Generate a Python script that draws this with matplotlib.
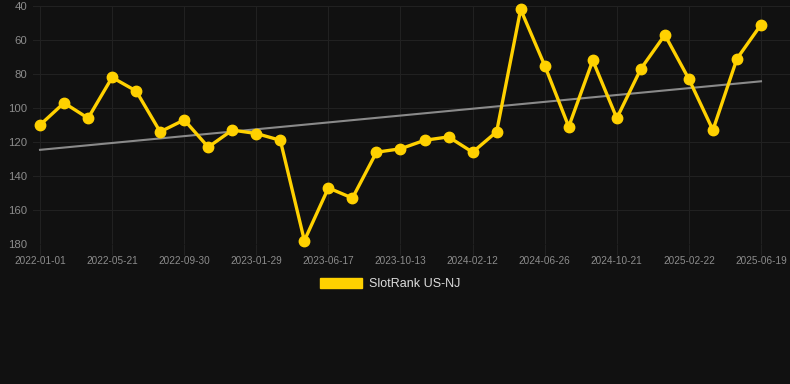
import numpy as np
import matplotlib
matplotlib.use("Agg")
import matplotlib.pyplot as plt
from matplotlib.patches import Patch

plt.rcParams["font.family"] = ["Liberation Sans", "DejaVu Sans"]

# rank values, one point per period (lower rank number = better, axis is inverted)
ranks = [110, 97, 106, 82, 90, 114, 107, 123, 113, 115, 119,
         178, 147, 153, 126, 124, 119, 117, 126, 114, 42,
         75, 111, 72, 106, 77, 57, 83, 113, 71, 51]
tick_labels = ["2022-01-01", "2022-05-21", "2022-09-30", "2023-01-29",
               "2023-06-17", "2023-10-13", "2024-02-12", "2024-06-26",
               "2024-10-21", "2025-02-22", "2025-06-19"]
y_ticks = [40, 60, 80, 100, 120, 140, 160, 180]
series_name = "SlotRank US-NJ"

bg = "#111111"
gold = "#FFD100"
grid_c = "#212121"

x = np.arange(len(ranks))
slope, icpt = np.polyfit(x, ranks, 1)
trend = slope * x + icpt

fig = plt.figure(figsize=(7.9, 3.84), dpi=100, facecolor=bg)
ax = fig.add_axes([33/790, 140/384, 757/790, 238/384], facecolor=bg)

ax.plot(x, trend, color="#8a8a8a", linewidth=1.5, zorder=2)
ax.plot(x, ranks, color=gold, linewidth=2.4, marker="o", markersize=7.5,
        markerfacecolor=gold, markeredgecolor=gold, zorder=3, clip_on=False)

ax.set_xlim(-7/24.03, 30 + 29/24.03)
ax.set_ylim(180, 40)
ax.set_yticks(y_ticks)
ax.set_xticks(x[::3])
ax.set_xticklabels(tick_labels)

ax.grid(True, color=grid_c, linewidth=0.8)
ax.set_axisbelow(True)
for s in ax.spines.values():
    s.set_visible(False)
ax.tick_params(axis="x", colors=grid_c, length=8, width=0.8,
               labelcolor="#8c8c8c", labelsize=7.2, pad=1)
ax.tick_params(axis="y", length=0, labelcolor="#8c8c8c", labelsize=8.2, pad=4)

fig.legend(handles=[Patch(facecolor=gold, edgecolor=gold, label=series_name)],
           loc="center", bbox_to_anchor=(390/790, 1 - 284/384), frameon=False,
           handlelength=3.4, handleheight=0.9, handletextpad=0.5,
           fontsize=9, labelcolor="#dddddd")

fig.savefig("out.png", dpi=100, facecolor=bg)
